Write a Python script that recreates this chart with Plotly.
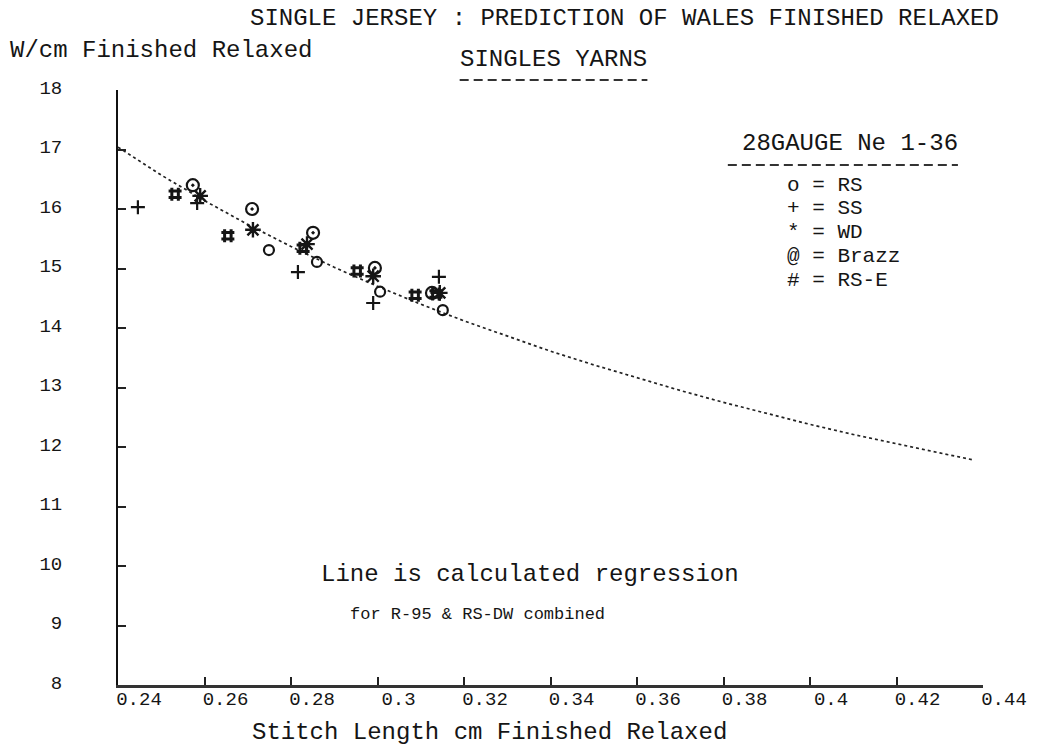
import plotly.graph_objects as go

# ---------------- data ----------------
# regression curve
curve_x = [0.24, 0.25, 0.26, 0.27, 0.28, 0.29, 0.30, 0.31, 0.32, 0.33, 0.34,
           0.35, 0.36, 0.37, 0.38, 0.39, 0.40, 0.41, 0.42, 0.43, 0.438]
curve_y = [17.04, 16.57, 16.14, 15.74, 15.37, 15.02, 14.70, 14.40, 14.12, 13.86, 13.61,
           13.38, 13.16, 12.95, 12.75, 12.56, 12.38, 12.21, 12.05, 11.90, 11.78]

rs_x = [0.2749, 0.2860, 0.3006, 0.3151]
rs_y = [15.31, 15.11, 14.61, 14.30]

ss_x = [0.2446, 0.2583, 0.2816, 0.2990, 0.3142]
ss_y = [16.03, 16.10, 14.94, 14.42, 14.86]

wd_x = [0.2590, 0.2712, 0.2837, 0.2990, 0.3144]
wd_y = [16.22, 15.65, 15.41, 14.87, 14.59]

brazz_x = [0.2573, 0.2710, 0.2851, 0.2994, 0.3126]
brazz_y = [16.40, 16.00, 15.60, 15.01, 14.59]

rse_x = [0.2532, 0.2654, 0.2828, 0.2953, 0.3087, 0.3135]
rse_y = [16.25, 15.55, 15.34, 14.96, 14.55, 14.57]

x_ticks = [0.24, 0.26, 0.28, 0.30, 0.32, 0.34, 0.36, 0.38, 0.40, 0.42, 0.44]
x_tick_labels = ["0.24", "0.26", "0.28", "0.3", "0.32", "0.34", "0.36", "0.38", "0.4", "0.42", "0.44"]
y_ticks = [8, 9, 10, 11, 12, 13, 14, 15, 16, 17, 18]
y_tick_labels = ["8", "9", "10", "11", "12", "13", "14", "15", "16", "17", "18"]

# (legend character, x, y, name, plotly marker symbol, size, line width)
series = [
    ("o", rs_x, rs_y, "RS", "circle-open", 10, 2.2),
    ("+", ss_x, ss_y, "SS", "cross-thin-open", 10, 2.2),
    ("*", wd_x, wd_y, "WD", "asterisk-open", 13, 2.4),
    ("@", brazz_x, brazz_y, "Brazz", "circle-open-dot", 12, 2.2),
    ("#", rse_x, rse_y, "RS-E", "hash-open", 13, 3.0),
]

FONT = "Liberation Mono"
INK = "#151515"

fig = go.Figure()
fig.add_trace(go.Scatter(x=curve_x, y=curve_y, mode="lines",
                         line=dict(color="#222", width=1.7, dash="dot"),
                         hoverinfo="skip", showlegend=False))
for sym, xs, ys, name, msym, msize, mlw in series:
    fig.add_trace(go.Scatter(x=xs, y=ys, mode="markers",
                             marker=dict(symbol=msym, size=msize, color=INK,
                                         line=dict(color=INK, width=mlw)),
                             name=name, showlegend=False))

annos = []
def txt(s, x, y, size=24, xanchor="center"):
    annos.append(dict(text=s, x=x, y=y, xref="paper", yref="paper", showarrow=False,
                      xanchor=xanchor, yanchor="middle",
                      font=dict(family=FONT, size=size, color=INK)))

txt("SINGLE JERSEY : PREDICTION OF WALES FINISHED RELAXED", 0.585, 1.121)
txt("W/cm Finished Relaxed", -0.127, 1.067, xanchor="left")
txt("SINGLES YARNS", 0.503, 1.052)
txt("28GAUGE Ne 1-36", 0.719, 0.910, xanchor="left")
leg_y = [0.840, 0.800, 0.760, 0.720, 0.680]
for (sym, _, _, name, _, _, _), yy in zip(series, leg_y):
    txt(f"{sym} = {name}", 0.771, yy, size=21, xanchor="left")
txt("Line is calculated regression", 0.476, 0.185)
txt("for R-95 & RS-DW combined", 0.416, 0.119, size=17)
txt("Stitch Length cm Finished Relaxed", 0.430, -0.079)

# dashed underlines
shapes = [
    dict(type="line", xref="paper", yref="paper", x0=0.395, x1=0.612, y0=1.017, y1=1.017,
         line=dict(color="#333", width=2, dash="9px,5px")),
    dict(type="line", xref="paper", yref="paper", x0=0.705, x1=0.971, y0=0.874, y1=0.874,
         line=dict(color="#333", width=2, dash="9px,5px")),
]

fig.update_layout(
    width=1040, height=746,
    margin=dict(l=118, r=57, t=90, b=61),
    paper_bgcolor="white", plot_bgcolor="white",
    showlegend=False,
    annotations=annos,
    shapes=shapes,
    xaxis=dict(range=[0.24, 0.44], tickvals=x_ticks, ticktext=x_tick_labels,
               showgrid=False, zeroline=False, showline=True, linecolor="#333",
               linewidth=3, ticks="inside", ticklen=8, tickwidth=1.5, tickcolor="#222",
               tickfont=dict(family=FONT, size=19, color=INK), ticklabelshift=21,
               ticklabelstandoff=-6),
    yaxis=dict(range=[8, 18], tickvals=y_ticks, ticktext=y_tick_labels,
               showgrid=False, zeroline=False, showline=True, linecolor="#111",
               linewidth=2, ticks="inside", ticklen=8, tickwidth=1.5, tickcolor="#222",
               tickfont=dict(family=FONT, size=19, color=INK),
               ticklabelstandoff=50, ticklabelshift=-3),
)

fig.write_html("out.html")
